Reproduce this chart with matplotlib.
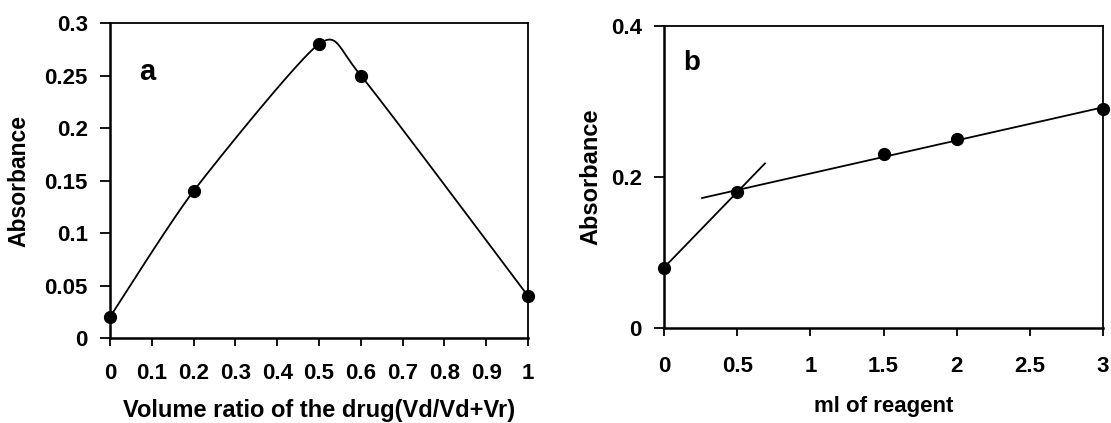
import numpy as np
import matplotlib.pyplot as plt

plt.rcParams['font.family'] = ['Liberation Sans', 'DejaVu Sans']
plt.rcParams['font.weight'] = 'bold'

# panel a - continuous variation (job's method)
ratio = [0, 0.2, 0.5, 0.6, 1.0]
abs_a = [0.02, 0.14, 0.28, 0.25, 0.04]
xticks_a = [0, 0.1, 0.2, 0.3, 0.4, 0.5, 0.6, 0.7, 0.8, 0.9, 1]
xlabels_a = ['0', '0.1', '0.2', '0.3', '0.4', '0.5', '0.6', '0.7', '0.8', '0.9', '1']
yticks_a = [0, 0.05, 0.1, 0.15, 0.2, 0.25, 0.3]
ylabels_a = ['0', '0.05', '0.1', '0.15', '0.2', '0.25', '0.3']

# panel b - mole ratio / reagent volume
ml_reagent = [0, 0.5, 1.5, 2, 3]
abs_b = [0.08, 0.18, 0.23, 0.25, 0.29]
xticks_b = [0, 0.5, 1, 1.5, 2, 2.5, 3]
xlabels_b = ['0', '0.5', '1', '1.5', '2', '2.5', '3']
yticks_b = [0, 0.2, 0.4]
ylabels_b = ['0', '0.2', '0.4']


def excel_smooth(x, y, sx, sy, tension=1 / 9, n=40):
    # bezier through the points, roughly like excel's "smoothed line"
    p = np.column_stack([np.asarray(x) * sx, np.asarray(y) * sy])
    pts = []
    for i in range(len(p) - 1):
        p0 = p[i - 1] if i > 0 else p[i]
        p1, p2 = p[i], p[i + 1]
        p3 = p[i + 2] if i + 2 < len(p) else p[i + 1]
        c1 = p1 + (p2 - p0) * tension
        c2 = p2 - (p3 - p1) * tension
        t = np.linspace(0, 1, n)[:, None]
        seg = (1 - t) ** 3 * p1 + 3 * (1 - t) ** 2 * t * c1 + 3 * (1 - t) * t ** 2 * c2 + t ** 3 * p2
        pts.append(seg)
    pts = np.vstack(pts)
    return pts[:, 0] / sx, pts[:, 1] / sy


fig = plt.figure(figsize=(11.11, 4.23), dpi=100)
ax1 = fig.add_axes([110 / 1111, 1 - 338 / 423, 418 / 1111, 315 / 423])
ax2 = fig.add_axes([664 / 1111, 1 - 328 / 423, 439 / 1111, 302 / 423])

# --- a ---
cx, cy = excel_smooth(ratio, abs_a, 418 / 1.0, 315 / 0.3)
ax1.plot(cx, cy, color='black', lw=1.3, clip_on=False)
ax1.plot(ratio, abs_a, 'o', color='black', ms=8.5, clip_on=False, zorder=5)
ax1.set_xlim(0, 1)
ax1.set_ylim(0, 0.3)
ax1.set_xticks(xticks_a)
ax1.set_xticklabels(xlabels_a)
ax1.set_yticks(yticks_a)
ax1.set_yticklabels(ylabels_a)
ax1.tick_params(axis='x', length=6, width=1.3, pad=12, labelsize=16)
ax1.tick_params(axis='y', length=7, width=1.3, pad=9, labelsize=16)
ax1.set_xlabel('Volume ratio of the drug(Vd/Vd+Vr)', fontsize=17, fontweight='bold', labelpad=11)
ax1.set_ylabel('Absorbance', fontsize=16.5, fontweight='bold', labelpad=10)
ax1.text(0.09, 0.253, 'a', fontsize=21, fontweight='bold', ha='center', va='center')

# --- b ---
# two straight lines: first two points, and fit of the rest
k1 = (abs_b[1] - abs_b[0]) / (ml_reagent[1] - ml_reagent[0])
x1 = np.array([0, 0.69])
ax2.plot(x1, abs_b[0] + k1 * x1, color='black', lw=1.3)
k2, b2 = np.polyfit(ml_reagent[1:], abs_b[1:], 1)
x2 = np.array([0.26, 3])
ax2.plot(x2, b2 + k2 * x2, color='black', lw=1.3, clip_on=False)
ax2.plot(ml_reagent, abs_b, 'o', color='black', ms=8.5, clip_on=False, zorder=5)
ax2.set_xlim(0, 3)
ax2.set_ylim(0, 0.4)
ax2.set_xticks(xticks_b)
ax2.set_xticklabels(xlabels_b)
ax2.set_yticks(yticks_b)
ax2.set_yticklabels(ylabels_b)
ax2.tick_params(axis='x', length=6, width=1.3, pad=14, labelsize=16)
ax2.tick_params(axis='y', length=7, width=1.3, pad=9, labelsize=16)
ax2.set_xlabel('ml of reagent', fontsize=16, fontweight='bold', labelpad=14)
ax2.set_ylabel('Absorbance', fontsize=17, fontweight='bold', labelpad=6)
ax2.text(0.19, 0.351, 'b', fontsize=20, fontweight='bold', ha='center', va='center')

for ax in (ax1, ax2):
    ax.spines['left'].set_linewidth(1.8)
    ax.spines['bottom'].set_linewidth(1.8)
    ax.spines['top'].set_linewidth(1.3)
    ax.spines['right'].set_linewidth(1.3)

fig.savefig('out.png', dpi=100)
